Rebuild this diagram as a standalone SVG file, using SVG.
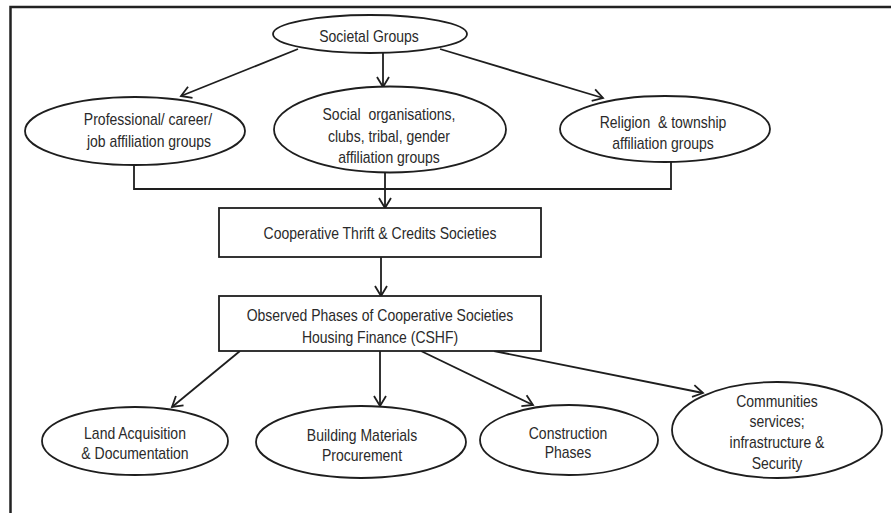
<svg xmlns="http://www.w3.org/2000/svg" width="891" height="513" viewBox="0 0 891 513">
<style>
.n{fill:#fff;stroke:#1e1e1e;stroke-width:1.8}
.t{font-family:"Liberation Sans",Arial,sans-serif;font-size:16px;fill:#2a2a2a;text-anchor:middle;dominant-baseline:central}
.c{fill:none;stroke:#1e1e1e;stroke-width:1.8}
.a{marker-end:url(#arr)}
</style>
<defs>
<marker id="arr" markerUnits="userSpaceOnUse" viewBox="-12 -8 14 16" markerWidth="14" markerHeight="16" refX="0" refY="0" orient="auto">
<path d="M-10,-6 L0,0 L-10,6" fill="none" stroke="#1e1e1e" stroke-width="1.8"/>
</marker>
</defs>
<rect width="891" height="513" fill="#fff"/>
<g id="frame">
<path d="M10.5,513 V7 H891" fill="none" stroke="#222" stroke-width="2.5"/>
</g>
<g id="connectors">
<line class="c a" x1="298" y1="49" x2="181" y2="96"/>
<line class="c a" x1="383" y1="53" x2="383" y2="87"/>
<line class="c a" x1="440" y1="49" x2="603" y2="98"/>
<polyline class="c" points="134,165 134,189 671,189 671,161"/>
<line class="c a" x1="385" y1="172" x2="385" y2="208"/>
<line class="c a" x1="381" y1="257" x2="381" y2="296"/>
<line class="c a" x1="240" y1="351" x2="172" y2="407"/>
<line class="c a" x1="380" y1="351" x2="380" y2="406"/>
<line class="c a" x1="421" y1="351" x2="533" y2="405"/>
<line class="c a" x1="494" y1="351" x2="703" y2="393"/>
</g>
<g id="societal">
<ellipse class="n" cx="370" cy="34" rx="97" ry="19"/>
<text class="t" transform="matrix(0.875 0 0 1 369 36)">Societal Groups</text>
</g>
<g id="professional">
<ellipse class="n" cx="135" cy="131" rx="110" ry="34"/>
<text class="t" transform="matrix(0.875 0 0 1 148 119)">Professional/ career/</text>
<text class="t" transform="matrix(0.875 0 0 1 149 141)">job affiliation groups</text>
</g>
<g id="social">
<ellipse class="n" cx="390" cy="129.5" rx="116" ry="43"/>
<text class="t" xml:space="preserve" transform="matrix(0.875 0 0 1 389 114)">Social  organisations,</text>
<text class="t" transform="matrix(0.875 0 0 1 389 136)">clubs, tribal, gender</text>
<text class="t" transform="matrix(0.875 0 0 1 389 157)">affiliation groups</text>
</g>
<g id="religion">
<ellipse class="n" cx="665" cy="129" rx="105" ry="33"/>
<text class="t" xml:space="preserve" transform="matrix(0.875 0 0 1 663 122)">Religion  &amp; township</text>
<text class="t" transform="matrix(0.875 0 0 1 663 143)">affiliation groups</text>
</g>
<g id="thrift">
<rect class="n" x="219" y="208" width="322" height="49"/>
<text class="t" transform="matrix(0.875 0 0 1 380 233)">Cooperative Thrift &amp; Credits Societies</text>
</g>
<g id="cshf">
<rect class="n" x="219" y="296" width="322" height="55"/>
<text class="t" transform="matrix(0.875 0 0 1 380 315)">Observed Phases of Cooperative Societies</text>
<text class="t" transform="matrix(0.875 0 0 1 380 337)">Housing Finance (CSHF)</text>
</g>
<g id="land">
<ellipse class="n" cx="135" cy="441" rx="93" ry="34"/>
<text class="t" transform="matrix(0.875 0 0 1 135 433)">Land Acquisition</text>
<text class="t" transform="matrix(0.875 0 0 1 135 453)">&amp; Documentation</text>
</g>
<g id="building">
<ellipse class="n" cx="361" cy="442" rx="105" ry="36"/>
<text class="t" transform="matrix(0.875 0 0 1 362 435)">Building Materials</text>
<text class="t" transform="matrix(0.875 0 0 1 362 455)">Procurement</text>
</g>
<g id="construction">
<ellipse class="n" cx="569" cy="440" rx="89" ry="35"/>
<text class="t" transform="matrix(0.875 0 0 1 568 433)">Construction</text>
<text class="t" transform="matrix(0.875 0 0 1 568 452)">Phases</text>
</g>
<g id="communities">
<ellipse class="n" cx="777" cy="430" rx="105" ry="48"/>
<text class="t" transform="matrix(0.875 0 0 1 777 401)">Communities</text>
<text class="t" transform="matrix(0.875 0 0 1 777 421)">services;</text>
<text class="t" transform="matrix(0.875 0 0 1 777 442)">infrastructure &amp;</text>
<text class="t" transform="matrix(0.875 0 0 1 777 463)">Security</text>
</g>
</svg>
